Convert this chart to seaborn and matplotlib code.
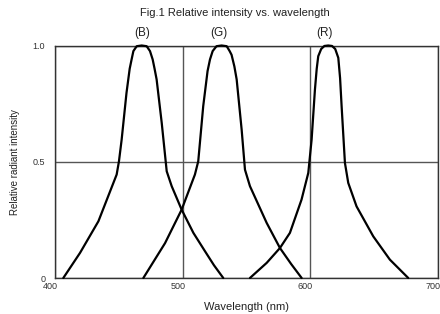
import matplotlib
matplotlib.use("Agg")
import matplotlib.pyplot as plt
import matplotlib.transforms as mtransforms
import seaborn as sns
import pandas as pd

# ---- data ----
blue_nm = [406.5, 419.6, 434.0, 448.3, 450.1, 452.2, 456.0, 458.5, 460.0, 461.4, 464.0, 467.9,
           471.8, 474.4, 476.5, 478.0, 479.6, 483.6, 487.5, 491.4, 499.2, 508.4, 517.5, 524.5, 531.8]
blue_i = [0.0, 0.108, 0.244, 0.445, 0.502, 0.595, 0.796, 0.9, 0.94, 0.976, 0.997, 1.0,
          0.997, 0.976, 0.94, 0.9, 0.854, 0.667, 0.459, 0.395, 0.294, 0.194, 0.115, 0.055, 0.0]

green_nm = [469.2, 486.2, 499.2, 509.6, 512.2, 516.1, 519.5, 521.4, 523.5, 526.5, 530.5, 534.5,
            536.8, 538.3, 540.5, 542.3, 546.2, 548.8, 552.7, 565.8, 576.2, 585.0, 593.2]
green_i = [0.0, 0.15, 0.294, 0.445, 0.502, 0.739, 0.89, 0.94, 0.976, 0.997, 1.0, 0.997,
           0.976, 0.96, 0.91, 0.854, 0.638, 0.466, 0.395, 0.237, 0.129, 0.06, 0.0]

red_nm = [552.7, 565.8, 576.2, 584.0, 593.1, 598.4, 601.0, 603.6, 605.0, 606.2, 608.5, 611.0, 614.0,
          617.0, 619.5, 621.9, 623.3, 624.5, 627.1, 629.7, 636.2, 649.3, 662.3, 676.7]
red_i = [0.0, 0.065, 0.129, 0.194, 0.337, 0.452, 0.595, 0.81, 0.9, 0.954, 0.985, 0.998, 1.0,
         0.998, 0.985, 0.947, 0.86, 0.739, 0.495, 0.409, 0.308, 0.179, 0.079, 0.0]

band_labels = ["(B)", "(G)", "(R)"]
band_label_x = [468, 528.5, 611]

x_ticks = [400, 500, 600, 700]
x_tick_labels = ["400", "500", "600", "700"]
y_ticks = [0, 0.5, 1.0]
y_tick_labels = ["0", "0.5", "1.0"]

title = "Fig.1 Relative intensity vs. wavelength"
x_label = "Wavelength (nm)"
y_label = "Relative radiant intensity"

# ---- build long table ----
frames = []
for name, xs, ys in [("B", blue_nm, blue_i), ("G", green_nm, green_i), ("R", red_nm, red_i)]:
    frames.append(pd.DataFrame({"wavelength": xs, "intensity": ys, "band": name}))
df = pd.concat(frames, ignore_index=True)

sns.set_theme(style="white")
plt.rcParams["font.family"] = ["Liberation Sans", "DejaVu Sans"]

fig = plt.figure(figsize=(4.4, 3.14), dpi=100)
ax = fig.add_axes([55 / 440, 1 - 278 / 314, 383 / 440, 232.5 / 314])

sns.lineplot(data=df, x="wavelength", y="intensity", hue="band", units="band",
             estimator=None, sort=False, palette=["black", "black", "black"],
             linewidth=1.6, legend=False, ax=ax, clip_on=False, zorder=3)

ax.set_xlim(400, 700)
ax.set_ylim(0, 1.0)
ax.set_xticks(x_ticks)
ax.set_xticklabels(x_tick_labels)
ax.set_yticks(y_ticks)
ax.set_yticklabels(y_tick_labels)
ax.tick_params(axis="both", length=0, labelsize=6.5, colors="#333333")
ax.tick_params(axis="x", pad=3)
ax.tick_params(axis="y", pad=7)
# reference x tick labels sit a few pixels left of their gridlines
shift = mtransforms.ScaledTranslation(-5 / 100, 0, fig.dpi_scale_trans)
for lbl in ax.get_xticklabels():
    lbl.set_transform(lbl.get_transform() + shift)
ax.grid(True, color="#555555", linewidth=1.0)
for s in ax.spines.values():
    s.set_color("#333333")
    s.set_linewidth(1.0)

ax.set_xlabel(x_label, fontsize=8, color="#222222", labelpad=8)
ax.set_ylabel(y_label, fontsize=7, color="#222222", labelpad=9)

fig.text(235 / 440, 1 - 13 / 314, title, ha="center", va="center",
         fontsize=8, color="#222222")

trans = mtransforms.blended_transform_factory(ax.transData, ax.transAxes)
for lab, xv in zip(band_labels, band_label_x):
    ax.text(xv, 1.055, lab, transform=trans, ha="center", va="center",
            fontsize=8.5, color="#222222")

fig.savefig("out.png", dpi=100)
